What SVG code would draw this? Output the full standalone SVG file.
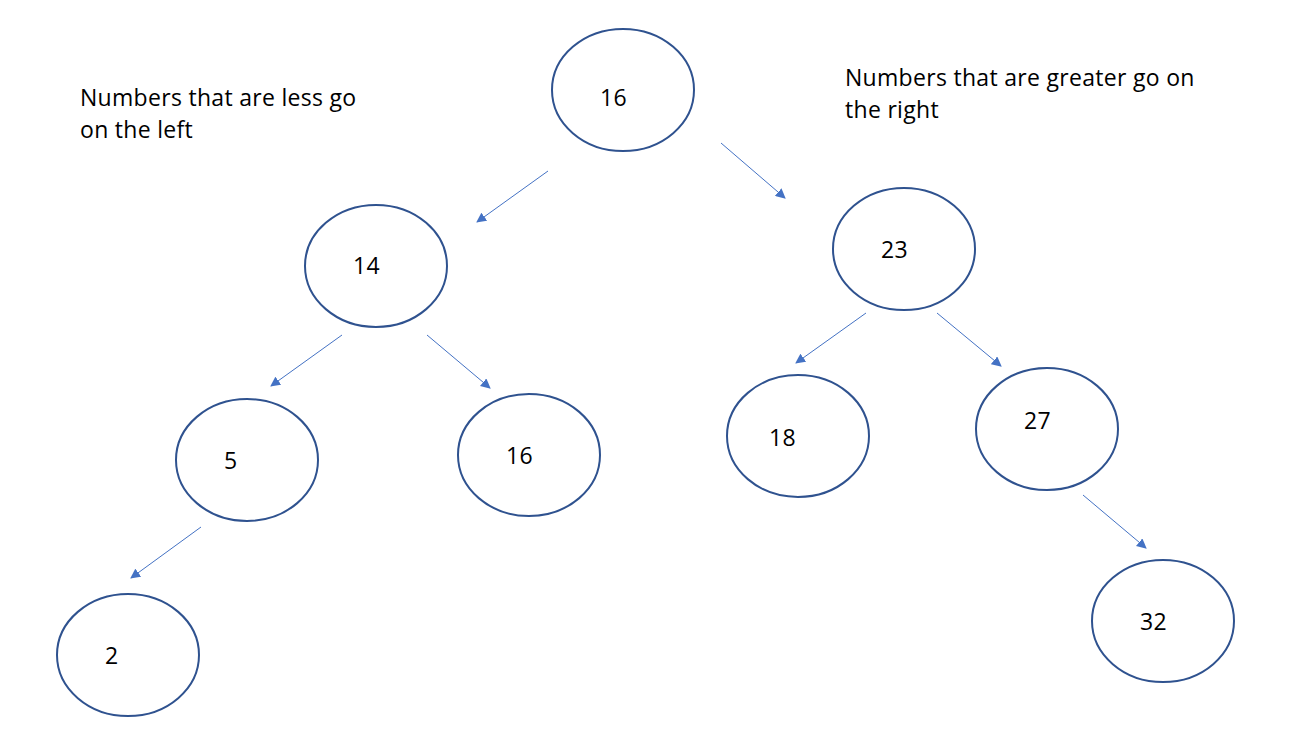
<svg xmlns="http://www.w3.org/2000/svg" width="1305" height="750" viewBox="0 0 1305 750">
<defs>
<style>
.n{fill:#fff;stroke:#2F528F;stroke-width:2}
.t{font-family:"Open Sans","Liberation Sans",sans-serif;font-size:23px;letter-spacing:0.3px;fill:#000}
.c line{stroke:#4472C4;stroke-width:1}
</style>
<marker id="ah" viewBox="0 0 10 10" refX="9" refY="5" markerWidth="10" markerHeight="10" markerUnits="userSpaceOnUse" orient="auto">
<path d="M0,0 L10,5 L0,10 Z" fill="#4472C4"/>
</marker>
</defs>
<rect width="1305" height="750" fill="#fff"/>
<text class="t" x="80" y="106">Numbers that are less go</text>
<text class="t" x="80" y="138">on the left</text>
<text class="t" x="845" y="86">Numbers that are greater go on</text>
<text class="t" x="845" y="118">the right</text>
<g id="connectors" class="c">
<line x1="548" y1="171" x2="477" y2="222" marker-end="url(#ah)"/>
<line x1="721" y1="143" x2="785" y2="198" marker-end="url(#ah)"/>
<line x1="342" y1="335" x2="271" y2="386" marker-end="url(#ah)"/>
<line x1="427" y1="335" x2="490" y2="388" marker-end="url(#ah)"/>
<line x1="866" y1="313" x2="796" y2="363" marker-end="url(#ah)"/>
<line x1="937" y1="313" x2="1001" y2="366" marker-end="url(#ah)"/>
<line x1="201" y1="527" x2="131" y2="578" marker-end="url(#ah)"/>
<line x1="1083" y1="495" x2="1146" y2="548" marker-end="url(#ah)"/>
</g>
<g id="n16root"><ellipse class="n" cx="623" cy="90" rx="71" ry="61"/><text class="t" x="600" y="106">16</text></g>
<g id="n14"><ellipse class="n" cx="376" cy="266" rx="71" ry="61"/><text class="t" x="353" y="274">14</text></g>
<g id="n23"><ellipse class="n" cx="904" cy="249" rx="71" ry="61"/><text class="t" x="881" y="258">23</text></g>
<g id="n5"><ellipse class="n" cx="247" cy="460" rx="71" ry="61"/><text class="t" x="224" y="469">5</text></g>
<g id="n16"><ellipse class="n" cx="529" cy="455" rx="71" ry="61"/><text class="t" x="506" y="464">16</text></g>
<g id="n18"><ellipse class="n" cx="798" cy="436" rx="71" ry="61"/><text class="t" x="769" y="446">18</text></g>
<g id="n27"><ellipse class="n" cx="1047" cy="429" rx="71" ry="61"/><text class="t" x="1024" y="429">27</text></g>
<g id="n2"><ellipse class="n" cx="128" cy="655" rx="71" ry="61"/><text class="t" x="105" y="664">2</text></g>
<g id="n32"><ellipse class="n" cx="1163" cy="621" rx="71" ry="61"/><text class="t" x="1140" y="630">32</text></g>
</svg>
